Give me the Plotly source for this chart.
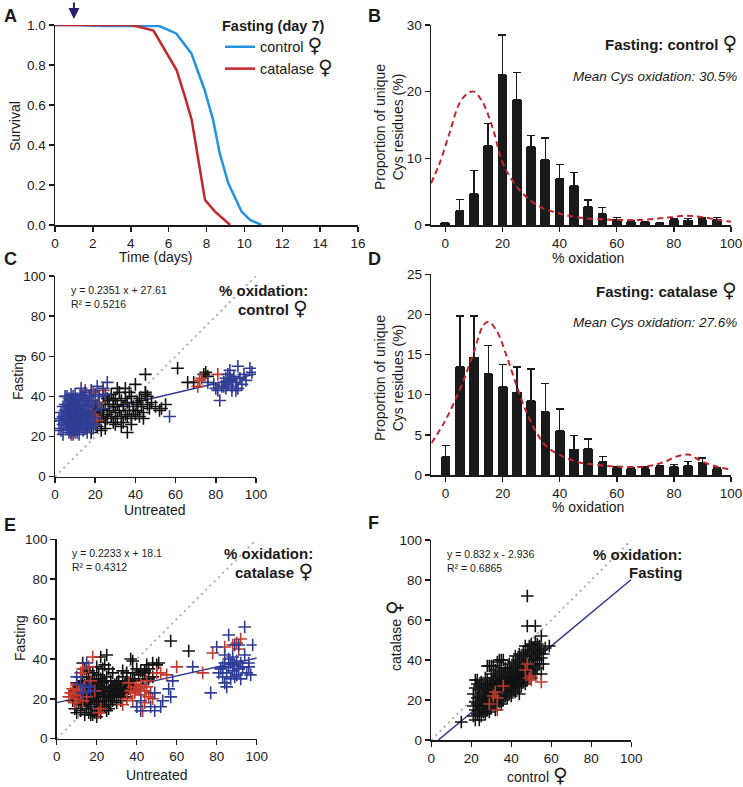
import plotly.graph_objects as go

W, H = 743, 787
FONT = "Liberation Sans, Arial, sans-serif"
INK = "#1a1a1a"
BLUE_LINE = "#2393e0"
RED = "#c1272d"
NAVY = "#2e3790"
SC_BLUE = "#2f3c96"
SC_RED = "#c0392b"

# ---------------- Panel A : survival ----------------
days_control = [0, 1, 2.5, 4, 5.5, 6.4, 7.2, 7.9, 8.35, 8.7, 9.15, 9.85, 10.3, 10.9]
surv_control = [1.0, 1.0, 0.995, 0.995, 0.995, 0.958, 0.858, 0.675, 0.525, 0.358, 0.208, 0.067, 0.025, 0.0]
days_catalase = [0, 1, 2, 3, 4.05, 5.2, 5.9, 6.42, 6.86, 7.22, 7.57, 7.92, 8.45, 9.25]
surv_catalase = [1.0, 1.0, 1.0, 1.0, 1.0, 0.972, 0.858, 0.775, 0.642, 0.525, 0.325, 0.125, 0.067, 0.0]
arrow_day = 1

# ---------------- Panels B / D : histograms ----------------
bins = [0, 5, 10, 15, 20, 25, 30, 35, 40, 45, 50, 55, 60, 65, 70, 75, 80, 85, 90, 95]
B_vals = [0.35, 2.15, 4.65, 11.9, 22.5, 18.75, 11.75, 9.75, 6.9, 5.85, 2.75, 1.65, 0.85, 0.5, 0.4, 0.3, 0.7, 0.7, 0.8, 0.75]
B_err = [0.0, 1.7, 3.5, 3.35, 6.0, 4.15, 1.7, 3.3, 2.2, 2.0, 1.0, 1.0, 0.3, 0.1, 0.1, 0.1, 0.2, 0.25, 0.25, 0.4]
B_fit_x = [-5, -2, 1.5, 5, 8, 10, 13, 16.8, 19.7, 22.6, 26, 29.6, 34.3, 39, 43.6, 49.5, 55, 60, 67, 74, 78.6, 84.5, 90.3, 96, 100]
B_fit_y = [6.25, 9.25, 13.8, 18.3, 19.8, 20.0, 18.5, 14.25, 9.75, 7.25, 5.25, 3.75, 2.5, 1.85, 1.35, 1.0, 0.85, 0.75, 0.75, 0.95, 1.15, 1.4, 1.15, 0.75, 0.5]

D_vals = [2.3, 13.5, 14.65, 12.6, 11.0, 10.3, 9.2, 7.9, 5.45, 3.2, 3.3, 1.65, 0.9, 0.8, 0.8, 0.95, 1.0, 1.15, 1.55, 0.8]
D_err = [1.35, 6.3, 5.15, 3.5, 2.75, 3.15, 4.0, 3.5, 2.8, 1.7, 1.2, 0.65, 0.15, 0.1, 0.2, 0.2, 0.3, 0.5, 0.55, 0.15]
D_fit_x = [-5, -0.7, 2.8, 6.3, 9.8, 13.3, 15, 18, 21.5, 25, 28.5, 32, 35.5, 40, 46, 53, 60, 70, 76, 81, 85, 90, 96, 100]
D_fit_y = [3.95, 6.4, 8.9, 11.8, 15.2, 18.7, 19.1, 17.9, 14.7, 11.0, 7.7, 5.2, 3.5, 2.5, 1.65, 1.25, 1.05, 1.05, 1.55, 2.3, 2.55, 1.65, 0.95, 0.7]

# ---------------- Panel C : control, untreated vs fasting ----------------
C_blue = [(3,23),(4,26),(5,29),(5,33),(6,24),(6,36),(7,28),(7,31),(7,39),(8,22),(8,27),(8,34),(9,25),(9,30),(9,37),
          (10,23),(10,28),(10,33),(10,41),(11,26),(11,31),(11,36),(12,24),(12,29),(12,34),(12,38),(13,27),(13,32),
          (14,23),(14,30),(14,36),(15,26),(15,33),(15,39),(16,28),(16,31),(17,25),(17,35),(18,30),(18,37),(4,30),
          (5,36),(6,27),(6,31),(7,25),(7,35),(8,29),(8,38),(9,27),(9,33),(9,40),(10,26),(10,31),(10,36),(11,24),
          (11,29),(11,34),(11,39),(12,27),(12,32),(13,25),(13,30),(13,35),(13,41),(14,28),(14,33),(15,29),(16,25),
          (16,35),(17,30),(19,33),(20,29),(21,36),(22,40),(24,44),(26,47),(21,45),(18,43),(15,42),(13,44),(8,41),
          (5,40),(3,28),(2,24),(4,21),(9,21),(12,21),(16,22),(20,26),(19,38),(23,34),(6,33),(8,32),(10,30),(12,31),
          (14,26),(7,33),(11,33),(13,28),(9,35),(3,32),(4,35),(6,40),(2,29),(17,40),(19,24),(15,24),(20,41),(25,41),
          (5,26),(6,29),(7,22),(8,36),(9,23),(10,38),(11,22),(12,36),(13,38),(14,40),(15,35),(16,38),(17,33),(18,27),
          (57,30),(76,47),(79,46),(80,44),(81,43),(82,38),(83,45),(84,47),(85,44),(85,49),(86,46),(86,51),(87,49),
          (87,53),(88,45),(88,48),(89,50),(90,43),(90,47),(91,44),(91,55),(92,49),(93,46),(94,51),(95,48),(97,54),
          (98,52),(88,43),(84,45)]
C_black = [(16,24),(18,22),(19,27),(20,31),(21,25),(21,34),(22,28),(22,37),(23,30),(23,23),(24,33),(24,40),(25,27),
           (25,36),(26,31),(26,29),(27,38),(27,33),(28,30),(28,41),(29,35),(29,27),(30,32),(30,39),(31,29),(31,36),
           (32,42),(32,33),(33,30),(33,38),(34,35),(34,27),(35,44),(35,31),(36,22),(36,37),(37,33),(38,29),(38,40),
           (39,35),(40,31),(40,46),(41,37),(41,33),(42,30),(42,39),(43,35),(44,32),(44,29),(45,41),(45,51),(46,36),
           (47,34),(48,37),(50,35),(52,33),(53,34),(55,36),(38,26),(33,25),(25,24),(29,38),(31,44),(35,39),(37,42),
           (39,33),(43,38),(27,36),(24,30),(22,32),(20,35),(26,39),(30,26),(36,30),(41,36),(61,54),(66,47),(69,47),
           (74,51),(75,52),(76,50),(45,42),(46,40)]
C_red = [(8,21),(10,22),(13,26),(14,28),(15,43),(16,30),(17,27),(18,33),(19,31),(20,30),(21,28),(17,36),(19,42),
         (22,37),(24,43),(71,45),(72,48),(73,49),(81,51),(12,24)]
C_fit = [0.2351, 27.61]

# ---------------- Panel E : catalase, untreated vs fasting ----------------
E_black = [(8,19),(9,15),(10,22),(10,13),(11,18),(11,26),(12,14),(12,21),(13,17),(13,24),(13,29),(14,12),(14,19),
           (14,27),(15,15),(15,22),(15,31),(16,13),(16,18),(16,25),(17,20),(17,28),(17,16),(18,12),(18,23),(18,33),
           (19,17),(19,21),(19,26),(20,14),(20,19),(20,29),(20,11),(21,22),(21,16),(21,32),(22,18),(22,25),(22,13),
           (23,21),(23,28),(23,35),(24,16),(24,23),(24,19),(25,26),(25,14),(25,31),(26,20),(26,24),(27,17),(27,29),
           (27,22),(28,25),(28,19),(28,33),(29,21),(29,27),(30,18),(30,24),(31,29),(31,22),(32,26),(32,19),(33,31),
           (33,23),(34,27),(35,21),(35,29),(36,25),(37,30),(38,27),(16,34),(18,30),(20,36),(22,41),(25,42),(24,37),
           (26,35),(14,35),(12,31),(10,28),(9,24),(11,21),(13,20),(15,27),(17,24),(19,30),(21,27),(23,24),(25,19),
           (27,26),(29,23),(31,25),(24,29),(22,30),(20,25),(18,20),(16,21),(14,23),(12,17),(15,18),(17,12),(19,13),
           (21,19),(23,17),(26,15),(28,22),(30,28),(32,23),(34,24),(36,28),(38,33),(40,35),(42,34),(44,33),(46,35),
           (48,31),(50,37),(46,30),(44,34),(41,32),(39,29),(37,40),(43,30),(33,34),(35,33),(13,38),(57,49),(66,44),
           (38,39),(51,38),(48,38),(45,37)]
E_red = [(6,21),(7,23),(8,25),(9,18),(9,22),(10,27),(10,20),(11,24),(12,23),(12,33),(13,35),(14,26),(15,21),(16,36),
         (18,41),(19,24),(21,13),(22,15),(13,19),(17,29),(33,17),(35,20),(36,28),(38,19),(39,23),(40,16),(41,25),
         (42,22),(42,27),(43,14),(44,24),(45,26),(46,21),(47,23),(48,20),(44,18),(45,29),(50,33),(52,33),(55,32),
         (39,24),(37,24),(60,36),(73,33),(78,43),(84,46),(88,47),(90,48),(92,50),(91,45),(40,26)]
E_blue = [(10,31),(12,27),(13,23),(15,38),(16,26),(17,24),(49,23),(53,19),(57,21),(58,29),(68,36),(77,23),(52,16),
          (49,14),(42,19),(40,16),(42,14),(56,25),(47,16),(80,46),(82,35),(83,31),(84,28),(84,38),(85,26),(85,33),
          (86,36),(86,40),(86,52),(87,30),(87,38),(88,34),(88,41),(89,37),(89,47),(90,32),(90,39),(91,35),(91,47),
          (92,38),(92,30),(93,36),(94,42),(94,56),(95,33),(96,38),(96,36),(97,32),(98,47),(81,33),(83,36),(89,31),
          (84,42)]
E_fit = [0.2233, 18.1]

# ---------------- Panel F : fasting, control vs catalase ----------------
F_black = [(21,12),(21,17),(21,23),(22,10),(22,15),(22,19),(22,26),(22,30),(23,13),(23,18),(23,21),(23,28),(24,10),
           (24,14),(24,17),(24,22),(24,25),(25,12),(25,16),(25,20),(25,24),(25,29),(26,14),(26,18),(26,21),(26,26),
           (27,13),(27,17),(27,20),(27,23),(27,28),(27,31),(28,15),(28,19),(28,22),(28,25),(28,30),(29,14),(29,18),
           (29,21),(29,24),(29,27),(29,37),(30,16),(30,20),(30,23),(30,26),(30,29),(30,33),(31,18),(31,21),(31,25),
           (31,28),(31,31),(31,37),(32,15),(32,19),(32,23),(32,27),(32,30),(32,35),(33,17),(33,21),(33,24),(33,28),
           (33,32),(33,39),(34,19),(34,22),(34,26),(34,29),(34,34),(34,40),(35,18),(35,21),(35,25),(35,28),(35,31),
           (35,36),(36,20),(36,24),(36,27),(36,30),(36,33),(37,22),(37,25),(37,29),(37,32),(37,36),(38,21),(38,24),
           (38,28),(38,31),(38,35),(39,23),(39,27),(39,30),(39,34),(39,38),(40,22),(40,26),(40,29),(40,32),(40,36),
           (41,25),(41,28),(41,31),(41,34),(41,39),(42,24),(42,27),(42,30),(42,33),(42,37),(42,42),(43,26),(43,29),
           (43,32),(43,35),(43,40),(44,23),(44,28),(44,31),(44,34),(44,38),(44,43),(45,27),(45,30),(45,33),(45,36),
           (45,41),(46,29),(46,32),(46,35),(46,39),(46,44),(47,28),(47,31),(47,34),(47,37),(47,42),(47,47),(48,30),
           (48,33),(48,36),(48,40),(48,45),(48,57),(48,72),(49,32),(49,35),(49,38),(49,43),(49,47),(50,31),(50,34),
           (50,40),(50,44),(50,48),(51,35),(51,38),(51,42),(51,46),(52,33),(52,37),(52,41),(52,45),(52,49),(52,57),
           (53,36),(53,40),(53,44),(53,48),(54,38),(54,43),(54,47),(55,33),(55,41),(55,45),(55,52),(56,38),(56,43),
           (57,46),(59,47),(15,9),(23,30),(28,37),(30,37),(35,40),(36,40),(24,27)]
F_red = [(48,38),(47,35),(50,32),(55,29),(50,30),(36,27),(32,24),(33,21),(29,18),(33,15),(31,22),(49,31)]
F_fit = [0.832, -2.936]

identity = [0, 100]


def px(x):
    return x / W


def py(y):
    return 1 - y / H


FEM = "<span style='font-family:DejaVu Sans;font-size:20px'>♀</span>"

fig = go.Figure()

# Panel A
fig.add_trace(go.Scatter(x=days_control, y=surv_control, mode="lines", name="control " + FEM,
                         line=dict(color=BLUE_LINE, width=2.5), cliponaxis=False, xaxis="x", yaxis="y"))
fig.add_trace(go.Scatter(x=days_catalase, y=surv_catalase, mode="lines", name="catalase " + FEM,
                         line=dict(color=RED, width=2.5), cliponaxis=False, xaxis="x", yaxis="y"))

# Panels B and D
for vals, err, fx, fy, xa, ya in [(B_vals, B_err, B_fit_x, B_fit_y, "x2", "y2"),
                                  (D_vals, D_err, D_fit_x, D_fit_y, "x4", "y4")]:
    fig.add_trace(go.Bar(x=bins, y=vals, width=3.4, marker=dict(color=INK, line=dict(width=0)),
                         error_y=dict(type="data", symmetric=False, array=err, arrayminus=[0] * len(err),
                                      color=INK, thickness=1.5, width=4),
                         showlegend=False, xaxis=xa, yaxis=ya))
    fig.add_trace(go.Scatter(x=fx, y=fy, mode="lines", line=dict(color=RED, width=2, dash="6px,4px", shape="spline"),
                             showlegend=False, xaxis=xa, yaxis=ya))


def scatter_panel(groups, fit, xa, ya, fit_from_zero=True):
    fig.add_trace(go.Scatter(x=identity, y=identity, mode="lines",
                             line=dict(color="#a8a8a8", width=1.8, dash="2px,4px"),
                             showlegend=False, xaxis=xa, yaxis=ya))
    slope, icpt = fit
    x0 = 0 if fit_from_zero else -icpt / slope
    lx = [x0, 100]
    ly = [slope * v + icpt for v in lx]
    fig.add_trace(go.Scatter(x=lx, y=ly, mode="lines", line=dict(color=NAVY, width=1.5),
                             showlegend=False, xaxis=xa, yaxis=ya))
    for pts, col in groups:
        fig.add_trace(go.Scatter(x=[p[0] for p in pts], y=[p[1] for p in pts], mode="markers",
                                 marker=dict(symbol="cross-thin", size=9, line=dict(width=1.6, color=col)),
                                 showlegend=False, xaxis=xa, yaxis=ya))


scatter_panel([(C_black, "#111111"), (C_red, SC_RED), (C_blue, SC_BLUE)], C_fit, "x3", "y3")
scatter_panel([(E_black, "#111111"), (E_red, SC_RED), (E_blue, SC_BLUE)], E_fit, "x5", "y5")
scatter_panel([(F_black, "#111111"), (F_red, SC_RED)], F_fit, "x6", "y6", fit_from_zero=False)


def axis(dom, rng, dtick, anchor, tick0=0, fmt=None):
    d = dict(domain=dom, range=rng, dtick=dtick, tick0=tick0, anchor=anchor, showline=True, linecolor=INK,
             linewidth=1.5, ticks="outside", ticklen=5, tickwidth=1.5, tickcolor=INK, showgrid=False,
             zeroline=False, tickfont=dict(size=13.5, color=INK, family=FONT), fixedrange=True,
             automargin=False)
    if fmt:
        d["tickformat"] = fmt
    return d


layout = dict(
    template="none",
    width=W, height=H, margin=dict(l=0, r=0, t=0, b=0, autoexpand=False),
    plot_bgcolor="white", paper_bgcolor="white",
    font=dict(family=FONT, color=INK), bargap=0,
    xaxis=axis([px(55), px(358)], [0, 16], 2, "y"),
    yaxis=axis([py(225), py(25)], [0, 1], 0.2, "x", fmt=".1f"),
    xaxis2=axis([px(431), px(731)], [-5, 100], 20, "y2"),
    yaxis2=axis([py(225), py(25)], [0, 30], 10, "x2"),
    xaxis3=axis([px(55), px(256)], [0, 100], 20, "y3"),
    yaxis3=axis([py(476.7), py(276)], [0, 100], 20, "x3"),
    xaxis4=axis([px(431.3), px(731)], [-5, 100], 20, "y4"),
    yaxis4=axis([py(475), py(274.3)], [0, 25], 5, "x4"),
    xaxis5=axis([px(56.7), px(256.7)], [0, 100], 20, "y5"),
    yaxis5=axis([py(738.7), py(539.3)], [0, 100], 20, "x5"),
    xaxis6=axis([px(431.3), px(631.3)], [0, 100], 20, "y6"),
    yaxis6=axis([py(740), py(540)], [0, 100], 20, "x6"),
    legend=dict(x=px(220), y=py(12), xanchor="left", yanchor="top", bgcolor="rgba(0,0,0,0)",
                borderwidth=0,
                title=dict(text="<b>Fasting (day 7)</b>", font=dict(size=14.5, color=INK)),
                font=dict(size=14.5, color=INK), tracegroupgap=0, itemwidth=30),
    showlegend=True,
)
fig.update_layout(**layout)

ann = []


def txt(x, y, text, size=14, xanchor="center", angle=0, bold=False, italic=False):
    if bold:
        text = "<b>" + text + "</b>"
    if italic:
        text = "<i>" + text + "</i>"
    ann.append(dict(x=px(x), y=py(y), xref="paper", yref="paper", text=text, showarrow=False,
                    xanchor=xanchor, yanchor="middle", textangle=angle,
                    font=dict(size=size, color=INK, family=FONT)))


# panel letters
for letter, x, y in [("A", 2, 16), ("B", 366, 16), ("C", 2, 259), ("D", 366, 259), ("E", 2, 525), ("F", 366, 523)]:
    txt(x, y, letter, size=18, xanchor="left", bold=True)

# axis titles
txt(15, 126, "Survival", angle=-90)
txt(155, 257, "Time (days)")
txt(389, 127, "Proportion of unique<br>Cys residues (%)", angle=-90)
txt(588, 258, "% oxidation")
txt(389, 378, "Proportion of unique<br>Cys residues (%)", angle=-90)
txt(588, 507, "% oxidation")
txt(18, 377, "Fasting", angle=-90)
txt(154, 510, "Untreated")
txt(20, 638, "Fasting", angle=-90)
txt(156, 775, "Untreated")
txt(394, 636, "catalase " + FEM, angle=-90)
txt(537, 775, "control " + FEM)

# panel B / D headers
txt(739, 43, "Fasting: control " + FEM, size=15, xanchor="right", bold=True)
txt(739, 77, "Mean Cys oxidation: 30.5%", size=13.5, xanchor="right", italic=True)
txt(739, 290, "Fasting: catalase " + FEM, size=15, xanchor="right", bold=True)
txt(739, 322, "Mean Cys oxidation: 27.6%", size=13.5, xanchor="right", italic=True)

# scatter annotations
for (ex, ey, fit, rx, l2, r2) in [(69, 290, C_fit, 310, "control " + FEM, "0.5216"),
                                  (70, 553, E_fit, 315, "catalase " + FEM, "0.4312"),
                                  (445, 554, F_fit, 684, "Fasting", "0.6865")]:
    sign = "+" if fit[1] >= 0 else "-"
    txt(ex, ey, "y = %g x %s %g" % (fit[0], sign, abs(fit[1])), size=10.5, xanchor="left")
    txt(ex, ey + 14, "R² = " + r2, size=10.5, xanchor="left")
    txt(rx, ey, "% oxidation:", size=15, xanchor="right", bold=True)
    txt(rx, ey + 18, l2, size=15, xanchor="right", bold=True)

# arrow marking day of treatment
ann.append(dict(x=arrow_day, y=1.0, xref="x", yref="y", text="", showarrow=True, ax=0, ay=-24,
                arrowhead=2, arrowsize=1.1, arrowwidth=2, arrowcolor="#2b1d6e", standoff=6))

fig.update_layout(annotations=ann)
fig.write_html("out.html", config={"displayModeBar": False, "staticPlot": True},
               post_script="document.body.style.margin='0';document.body.style.padding='0';")
